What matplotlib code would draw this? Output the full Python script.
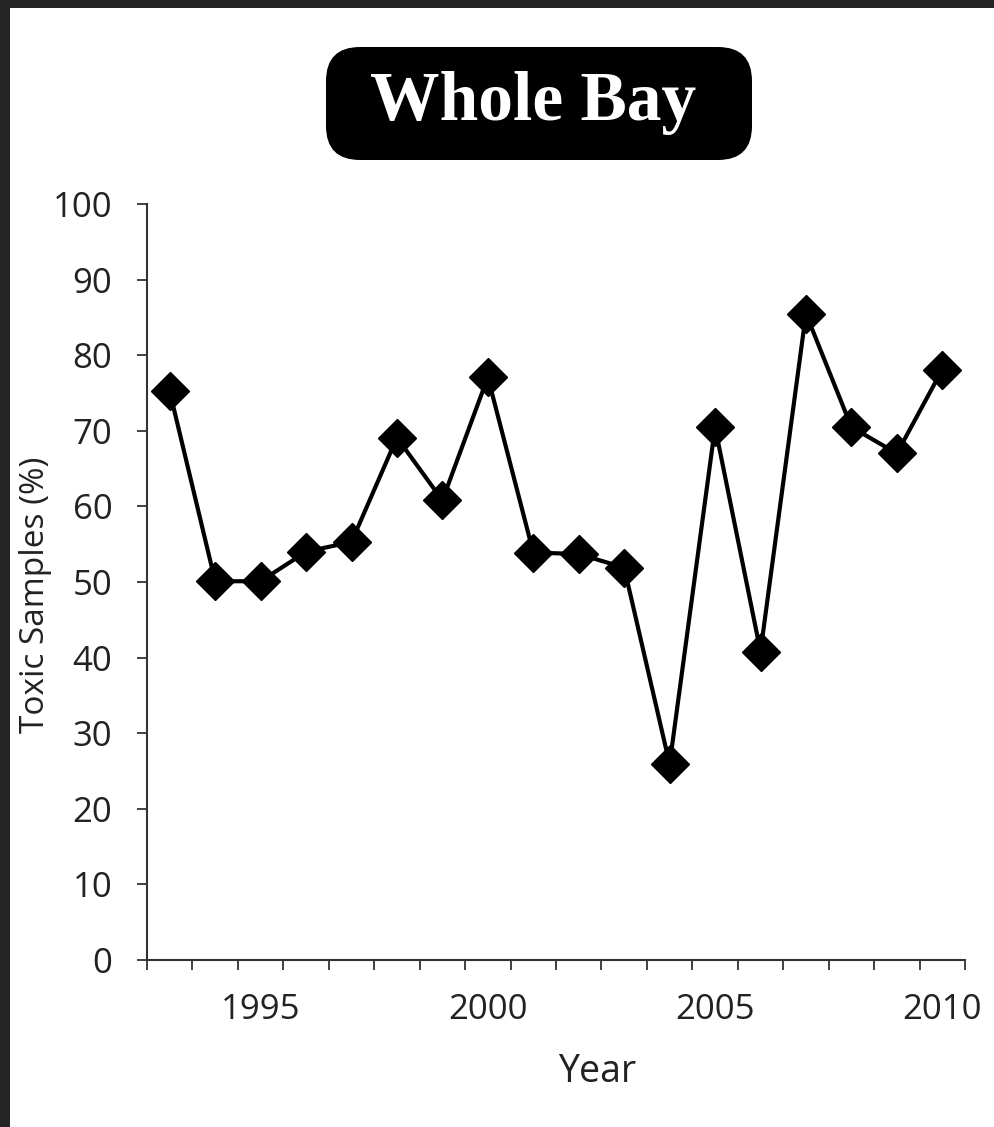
import matplotlib
matplotlib.use("Agg")
import matplotlib.pyplot as plt
from matplotlib.patches import FancyBboxPatch, Rectangle
from matplotlib.ticker import MultipleLocator, FixedLocator

years = [1993, 1994, 1995, 1996, 1997, 1998, 1999, 2000, 2001,
         2002, 2003, 2004, 2005, 2006, 2007, 2008, 2009, 2010]
toxic = [75.2, 50.1, 50.1, 54.0, 55.3, 69.1, 60.8, 77.1, 53.9,
         53.7, 51.9, 25.9, 70.5, 40.8, 85.5, 70.5, 67.0, 78.1]
year_labels = [1995, 2000, 2005, 2010]

title = "Whole Bay"
xlabel = "Year"
ylabel = "Toxic Samples (%)"

sans = ["Open Sans", "DejaVu Sans"]
ink = "#222222"

W, H, dpi = 994, 1127, 100
fig = plt.figure(figsize=(W / dpi, H / dpi), dpi=dpi)
fig.patch.set_facecolor("white")

# dark screenshot frame along top and left edge
fig.patches.append(Rectangle((0, 1 - 8 / H), 1, 8 / H, transform=fig.transFigure,
                             facecolor="#252525", edgecolor="none", zorder=0))
fig.patches.append(Rectangle((0, 0), 10 / W, 1, transform=fig.transFigure,
                             facecolor="#252525", edgecolor="none", zorder=0))

ax = fig.add_axes([147 / W, 1 - 960 / H, 818 / W, 756 / H])
ax.plot(years, toxic, color="black", lw=3, marker="D", ms=19,
        markerfacecolor="black", markeredgecolor="black", clip_on=False)

ax.set_xlim(1992.5, 2010.5)
ax.set_ylim(0, 100)

for side in ("top", "right"):
    ax.spines[side].set_visible(False)
for side in ("left", "bottom"):
    ax.spines[side].set_linewidth(1.5)
    ax.spines[side].set_color("#333333")

ax.yaxis.set_major_locator(MultipleLocator(10))
ax.tick_params(axis="y", direction="out", length=7, width=1.3, color="#333333",
               pad=18, labelsize=25, labelcolor=ink)
ax.xaxis.set_major_locator(FixedLocator(year_labels))
ax.xaxis.set_minor_locator(FixedLocator([y + 0.5 for y in range(1992, 2011)]))
ax.tick_params(axis="x", which="major", length=0, pad=24, labelsize=25, labelcolor=ink)
ax.tick_params(axis="x", which="minor", direction="out", length=7, width=1.3,
               color="#333333")
for lab in ax.get_xticklabels() + ax.get_yticklabels():
    lab.set_family(sans)

ax.set_xlabel(xlabel, fontsize=27, family=sans, color=ink)
ax.xaxis.set_label_coords((597 - 147) / 818, (960 - 1053) / 756)
ax.set_ylabel(ylabel, fontsize=24, family=sans, color=ink)
ax.yaxis.set_label_coords((52 - 147) / 818, (960 - 595) / 756)

# title badge, placed in inches so the corners stay round
box = FancyBboxPatch((3.26, (H - 160) / dpi), 4.26, 1.13,
                     boxstyle="round,pad=0,rounding_size=0.34",
                     transform=fig.dpi_scale_trans, facecolor="black",
                     edgecolor="none")
fig.patches.append(box)
fig.text(533 / W, 1 - 103 / H, title, ha="center", va="center", color="white",
         fontsize=50, fontweight="bold", family=["Liberation Serif", "DejaVu Serif"])

fig.savefig("out.png", dpi=dpi)
